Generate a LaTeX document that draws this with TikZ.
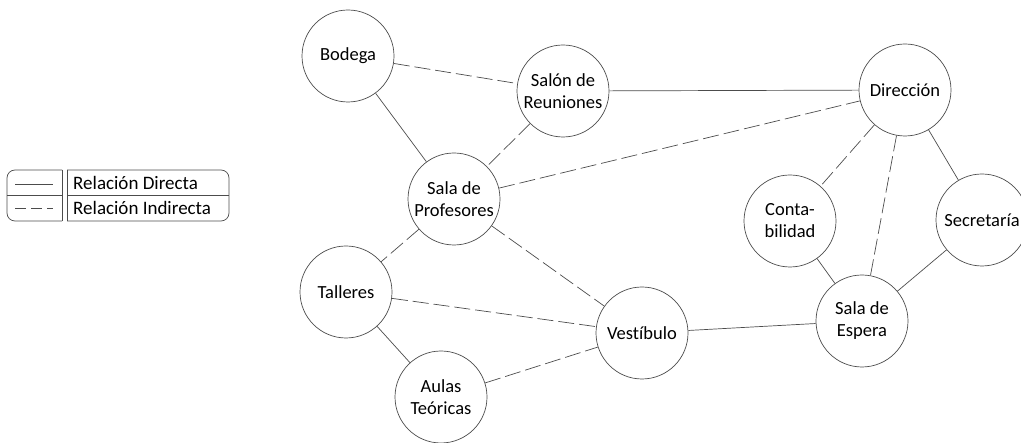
\documentclass[tikz,border=0pt]{standalone}
\usepackage{fontspec}
\setmainfont{Carlito}[Ligatures=NoCommon]
\begin{document}
\begin{tikzpicture}[x=1pt,y=-1pt,
  room/.style={circle,draw=black!70,line width=0.7pt,minimum size=92pt,inner sep=0pt,align=center,font=\fontsize{18.5}{22}\selectfont},
  direct/.style={draw=black!70,line width=0.7pt},
  indirect/.style={draw=black!70,line width=0.7pt,dash pattern=on 16pt off 5pt},
  legdash/.style={draw=black!70,line width=0.7pt,dash pattern=on 11pt off 5pt},
  legbox/.style={draw=black!70,line width=0.7pt},
  legtext/.style={anchor=west,inner sep=0pt,font=\fontsize{19}{22}\selectfont}]
\useasboundingbox (0,0) rectangle (1021,443);
\clip (0,0) rectangle (1021,443);

% rooms
\node[room] (bod)  at (348,56)  {Bodega};
\node[room] (sal)  at (563,91)  {Salón de\\Reuniones};
\node[room] (dir)  at (905,90)  {Dirección};
\node[room] (prof) at (454,199) {Sala de\\Profesores};
\node[room] (con)  at (790,221) {Conta-\\bilidad};
\node[room] (sec)  at (982,220) {Secretaría};
\node[room] (esp)  at (862,321) {Sala de\\Espera};
\node[room] (tal)  at (346,292) {Talleres};
\node[room] (ves)  at (642,333) {Vestíbulo};
\node[room] (aul)  at (441,397) {Aulas\\Teóricas};

% direct relations
\draw[direct] (bod) -- (prof);
\draw[direct] (sal) -- (dir);
\draw[direct] (dir) -- (sec);
\draw[direct] (con) -- (esp);
\draw[direct] (sec) -- (esp);
\draw[direct] (ves) -- (esp);
\draw[direct] (tal) -- (aul);

% indirect relations
\draw[indirect] (bod) -- (sal);
\draw[indirect] (sal) -- (prof);
\draw[indirect] (prof) -- (dir);
\draw[indirect] (dir) -- (con);
\draw[indirect] (dir) -- (esp);
\draw[indirect] (prof) -- (tal);
\draw[indirect] (prof) -- (ves);
\draw[indirect] (tal) -- (ves);
\draw[indirect] (aul) -- (ves);

% legend
\draw[legbox,rounded corners=8pt] (62,170) -- (7,170) -- (7,221) -- (62,221);
\draw[legbox] (62,170) -- (62,221);
\draw[legbox] (7,195) -- (62,195);
\draw[legbox,rounded corners=8pt] (67,170) -- (229,170) -- (229,221) -- (67,221);
\draw[legbox] (67,170) -- (67,221);
\draw[legbox] (67,195) -- (229,195);
\coordinate (l1a) at (15,184);
\coordinate (l1b) at (53,184);
\coordinate (l2a) at (15,208);
\coordinate (l2b) at (53,208);
\draw[direct] (l1a) -- (l1b);
\draw[legdash] (l2a) -- (l2b);
\node[legtext] (t1) at (73,183) {Relación Directa};
\node[legtext] (t2) at (73,208) {Relación Indirecta};
\end{tikzpicture}
\end{document}
